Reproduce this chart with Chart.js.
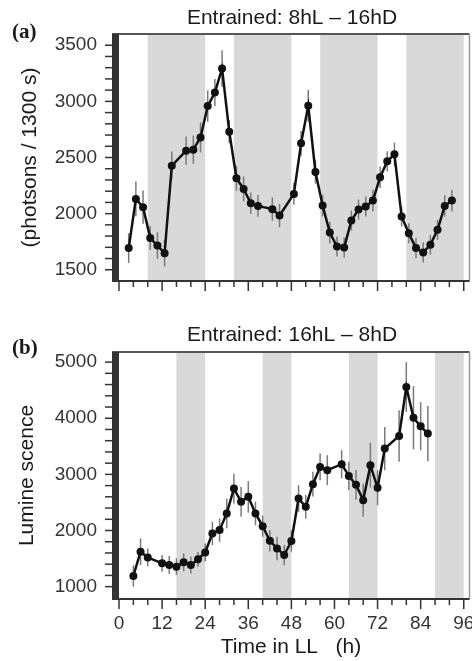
<!DOCTYPE html>
<html>
<head>
<meta charset="utf-8">
<script src="https://cdn.jsdelivr.net/npm/chart.js@4.4.1/dist/chart.umd.min.js"></script>
<style>
  html, body { margin: 0; padding: 0; background: #fff; }
  #wrap { position: relative; width: 472px; height: 661px; overflow: hidden; }
  canvas { position: absolute; left: 0; }
  #chartA { top: 0; }
  #chartB { top: 300px; }
</style>
</head>
<body>
<div id="wrap">
  <canvas id="chartA" width="490" height="300"></canvas>
  <canvas id="chartB" width="490" height="361"></canvas>
</div>
<script>
// panel (a): 8hL - 16hD
const timesA = [2.7, 4.7, 6.7, 8.7, 10.7, 12.7, 14.7, 18.7, 20.7, 22.7, 24.7, 26.7, 28.7, 30.7, 32.7, 34.7, 36.7, 38.7,
  42.7, 44.7, 48.7, 50.7, 52.7, 54.7, 56.7, 58.7, 60.7, 62.7, 64.7, 66.7, 68.7, 70.7, 72.7, 74.7, 76.7, 78.7,
  80.7, 82.7, 84.7, 86.7, 88.7, 90.7, 92.7];
const valuesA = [1693, 2131, 2057, 1782, 1716, 1648, 2427, 2561, 2570, 2679, 2958, 3079, 3293, 2730, 2315, 2220, 2093, 2069,
  2040, 1983, 2176, 2626, 2961, 2371, 2072, 1832, 1707, 1698, 1938, 2036, 2063, 2116, 2324, 2466, 2528, 1974,
  1826, 1693, 1654, 1722, 1856, 2069, 2116];
const errorsA = [133, 155, 148, 105, 118, 118, 126, 126, 126, 133, 140, 120, 163, 104, 111, 111, 96, 96,
  104, 104, 96, 111, 141, 104, 96, 96, 89, 89, 89, 89, 89, 96, 96, 89, 104, 89,
  89, 89, 89, 89, 89, 96, 96];
const darkA = [[8, 24], [32, 48], [56, 72], [80, 96]];
const yTicksA = [1500, 2000, 2500, 3000, 3500];

// panel (b): 16hL - 8hD
const timesB = [4, 6, 8, 12, 14, 16, 18, 20, 22, 24, 26, 28, 30, 32, 34, 36, 38, 40, 42, 44, 46, 48, 50, 52, 54, 56, 58,
  62, 64, 66, 68, 70, 72, 74, 78, 80, 82, 84, 86];
const valuesB = [1190, 1622, 1521, 1415, 1385, 1356, 1433, 1385, 1486, 1610, 1948, 2007, 2304, 2748, 2511, 2600, 2304, 2078,
  1818, 1681, 1563, 1812, 2570, 2422, 2825, 3133, 3074, 3181, 2973, 2813, 2541, 3163, 2760, 3459, 3684, 4556,
  4010, 3856, 3726];
const errorsB = [190, 237, 160, 150, 160, 150, 160, 150, 130, 160, 210, 210, 265, 265, 265, 280, 210, 190,
  190, 210, 180, 190, 237, 210, 220, 237, 267, 250, 250, 267, 296, 400, 311, 385, 460, 444,
  563, 430, 490];
const darkB = [[16, 24], [40, 48], [64, 72], [88, 96]];
const yTicksB = [1000, 2000, 3000, 4000, 5000];

const xTicks = [0, 12, 24, 36, 48, 60, 72, 84, 96];

const SANS = "'Liberation Sans', Arial, sans-serif";

function makePanel(canvasId, cfg) {
  const decor = {
    id: 'decor_' + canvasId,
    beforeDatasetsDraw(chart) {
      const { ctx, chartArea: a, scales: { x, y } } = chart;
      ctx.save();
      // dark phases
      ctx.fillStyle = '#d9d9d9';
      cfg.dark.forEach(([s, e]) => {
        const x0 = x.getPixelForValue(s), x1 = x.getPixelForValue(e);
        ctx.fillRect(x0, a.top, x1 - x0, a.bottom - a.top);
      });
      // error bars
      ctx.strokeStyle = '#7a7a7a';
      ctx.lineWidth = 1.5;
      cfg.times.forEach((t, i) => {
        const px = x.getPixelForValue(t);
        ctx.beginPath();
        ctx.moveTo(px, y.getPixelForValue(cfg.values[i] - cfg.errors[i]));
        ctx.lineTo(px, y.getPixelForValue(cfg.values[i] + cfg.errors[i]));
        ctx.stroke();
      });
      ctx.restore();
    },
    afterDraw(chart) {
      const { ctx, chartArea: a, scales: { x, y } } = chart;
      ctx.save();
      // frame
      ctx.strokeStyle = '#555';
      ctx.lineWidth = 2;
      ctx.beginPath();
      ctx.moveTo(a.left - 7, a.top); ctx.lineTo(a.right, a.top);
      ctx.stroke();
      ctx.strokeStyle = '#999';
      ctx.lineWidth = 1.5;
      ctx.beginPath();
      ctx.moveTo(a.right, a.top); ctx.lineTo(a.right, a.bottom);
      ctx.stroke();
      ctx.strokeStyle = '#333';
      ctx.lineWidth = 2;
      ctx.beginPath();
      ctx.moveTo(a.left - 7, a.bottom); ctx.lineTo(a.right, a.bottom);
      ctx.stroke();
      // thick left bar
      ctx.fillStyle = '#333';
      ctx.fillRect(a.left - 7, a.top, 7, a.bottom - a.top);
      // y tick marks (minor steps between the labelled ones)
      ctx.lineWidth = 1.5;
      const yFirst = cfg.yTicks[0], yLast = cfg.yTicks[cfg.yTicks.length - 1];
      for (let v = yFirst; v <= yLast; v += cfg.yMinor) {
        const py = y.getPixelForValue(v);
        ctx.beginPath();
        ctx.moveTo(a.left - 14, py); ctx.lineTo(a.left - 7, py);
        ctx.stroke();
      }
      // x tick marks, every 4 h, long ones at the labelled hours
      for (let h = 0; h <= 96; h += 4) {
        const px = x.getPixelForValue(h);
        ctx.beginPath();
        ctx.moveTo(px, a.bottom); ctx.lineTo(px, a.bottom + (xTicks.includes(h) ? 10 : 6));
        ctx.stroke();
      }
      // texts
      ctx.fillStyle = '#1a1a1a';
      ctx.font = '21px ' + SANS;
      ctx.textAlign = 'center';
      ctx.textBaseline = 'alphabetic';
      ctx.fillText(cfg.title, 292, cfg.titleY);
      if (cfg.xTitle) ctx.fillText(cfg.xTitle, 291, cfg.xTitleY);
      ctx.font = 'bold 21px "Liberation Serif", "Times New Roman", serif';
      ctx.textAlign = 'left';
      ctx.fillText(cfg.letter, 12, cfg.letterY);
      ctx.save();
      ctx.translate(cfg.yTitleX, (a.top + a.bottom) / 2);
      ctx.rotate(-Math.PI / 2);
      ctx.font = '21px ' + SANS;
      ctx.textAlign = 'center';
      ctx.textBaseline = 'middle';
      ctx.fillText(cfg.yTitle, 0, 0);
      ctx.restore();
      ctx.restore();
    }
  };

  return new Chart(document.getElementById(canvasId), {
    type: 'line',
    data: {
      datasets: [{
        data: cfg.times.map((t, i) => ({ x: t, y: cfg.values[i] })),
        borderColor: '#111',
        backgroundColor: '#111',
        borderWidth: 2.5,
        pointRadius: 4,
        pointBackgroundColor: '#111',
        pointBorderWidth: 0,
        tension: 0
      }]
    },
    options: {
      responsive: false,
      animation: false,
      devicePixelRatio: 1,
      layout: { padding: { left: 0, right: 20.5, top: cfg.padTop, bottom: 0 } },
      plugins: { legend: { display: false }, tooltip: { enabled: false } },
      scales: {
        x: {
          type: 'linear',
          min: 0,
          max: 97.6,
          grid: { display: false, drawTicks: false },
          border: { display: false },
          ticks: {
            display: cfg.xLabels,
            padding: 13,
            color: '#333',
            font: { family: SANS, size: 19 },
            maxRotation: 0,
            autoSkip: false,
            callback: v => String(v)
          },
          afterBuildTicks(s) { s.ticks = xTicks.map(v => ({ value: v })); },
          afterFit(s) { s.height = cfg.xHeight; s.paddingLeft = 0; s.paddingRight = 0; }
        },
        y: {
          min: cfg.yMin,
          max: cfg.yMax,
          grid: { display: false, drawTicks: false },
          border: { display: false },
          ticks: {
            padding: 22,
            color: '#333',
            font: { family: SANS, size: 19 },
            callback: v => String(v)
          },
          afterBuildTicks(s) { s.ticks = cfg.yTicks.map(v => ({ value: v })); },
          afterFit(s) { s.width = 119; s.paddingTop = 0; s.paddingBottom = 0; }
        }
      }
    },
    plugins: [decor]
  });
}

makePanel('chartA', {
  times: timesA, values: valuesA, errors: errorsA, dark: darkA, yTicks: yTicksA,
  yMin: 1400, yMax: 3600, yMinor: 100,
  padTop: 34, xHeight: 19, xLabels: false,
  title: 'Entrained: 8hL \u2013 16hD', titleY: 23.5,
  letter: '(a)', letterY: 38,
  yTitle: '(photsons / 1300 s)', yTitleX: 30
});

makePanel('chartB', {
  times: timesB, values: valuesB, errors: errorsB, dark: darkB, yTicks: yTicksB,
  yMin: 780, yMax: 5180, yMinor: 200,
  padTop: 52, xHeight: 62, xLabels: true,
  title: 'Entrained: 16hL \u2013 8hD', titleY: 40.7,
  letter: '(b)', letterY: 54,
  yTitle: 'Lumine scence', yTitleX: 27,
  xTitle: 'Time in LL   (h)', xTitleY: 353
});
</script>
</body>
</html>
